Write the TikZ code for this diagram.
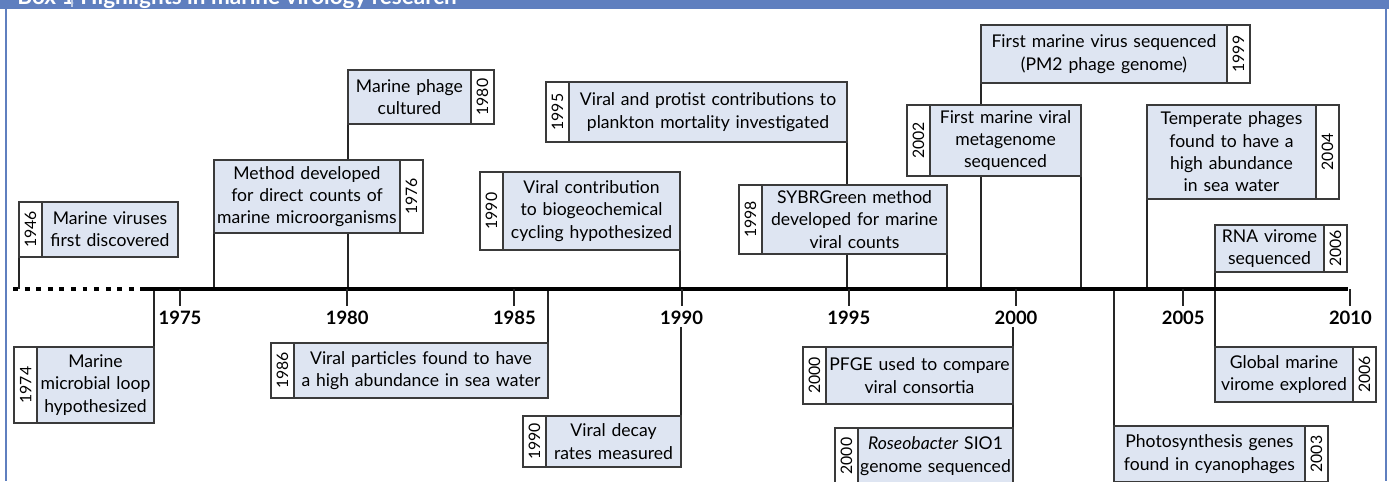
\documentclass[tikz,border=0pt]{standalone}
\usepackage{fontspec}
\setmainfont{Lato}
\usepackage{graphicx}
\usepackage{xcolor}
\definecolor{frame}{HTML}{5F7FBF}
\definecolor{boxfill}{HTML}{DEE5F2}
\definecolor{edge}{HTML}{3A3A3A}
\usepackage{tikz}
\usetikzlibrary{
    backgrounds,
    positioning,
}

\begin{document}
\begin{tikzpicture}[%
    x=0.02cm,
    y=-0.02cm,
    event/.style={
        draw=edge,
        line width=0.7pt,
        fill=boxfill,
        align=center,
        inner sep=0,
        outer sep=0,
        font=\fontsize{10}{12.7}\selectfont,
    },
    yearcell/.style={
        draw=edge,
        line width=0.7pt,
        fill=white,
        inner sep=0,
        outer sep=0,
        minimum width=0.46cm,
        font=\fontsize{9}{9}\selectfont,
    },
    stem/.style={
        draw,
        black!85,
        line width=1.1pt
    },
    axis/.style={
        line width=2.8pt,
        black
    },
    tick/.style={
        line width=1.1pt,
        black!85
    },
    yearlabel/.style={
        font=\fontsize{10.5}{10.5}\selectfont\bfseries,
        inner sep=1pt
    },
    title/.style={
        anchor=base west,
        inner sep=0,
        text=white,
        font=\fontsize{12.8}{12.8}\selectfont\bfseries
    }
]

\useasboundingbox (0,0) rectangle (1389,481);
\clip (0,0) rectangle (1389,481);

% frame
\fill[frame] (0,0) rectangle (1389,9);
\draw[frame, line width=1.1pt] (6,9) -- (6,481);
\draw[frame, line width=1.1pt] (1386,9) -- (1386,481);
\node[title] (boxno) at (17,4) {Box 1};
\node[title] (title) at (80,4) {Highlights in marine virology research};
\coordinate (sep) at (72,0);
\draw[white!60!frame, line width=0.6pt] (sep) -- ++(0,7);

% events above the line
\node[event, text width=2.72cm, minimum height=1.10cm, anchor=north west] (t1946) at (42,202) {Marine viruses\\first discovered};
\node[yearcell, minimum height=1.10cm, left=0pt of t1946] (y1946) {\rotatebox{90}{1946}};

\node[event, text width=3.72cm, minimum height=1.46cm, anchor=north west] (t1976) at (214,160) {Method developed\\for direct counts of\\marine microorganisms};
\node[yearcell, minimum height=1.46cm, right=0pt of t1976] (y1976) {\rotatebox{90}{1976}};

\node[event, text width=2.46cm, minimum height=1.08cm, anchor=north west] (t1980) at (348,70) {Marine phage\\cultured};
\node[yearcell, minimum height=1.08cm, right=0pt of t1980] (y1980) {\rotatebox{90}{1980}};

\node[event, text width=3.54cm, minimum height=1.56cm, anchor=north east] (t1990a) at (680,172) {Viral contribution\\to biogeochemical\\cycling hypothesized};
\node[yearcell, minimum height=1.56cm, left=0pt of t1990a] (y1990a) {\rotatebox{90}{1990}};

\node[event, text width=5.56cm, minimum height=1.20cm, anchor=north east] (t1995) at (847,82) {Viral and protist contributions to\\plankton mortality investigated};
\node[yearcell, minimum height=1.20cm, left=0pt of t1995] (y1995) {\rotatebox{90}{1995}};

\node[event, text width=3.70cm, minimum height=1.38cm, anchor=north east] (t1998) at (947,185) {SYBRGreen method\\developed for marine\\viral counts};
\node[yearcell, minimum height=1.38cm, left=0pt of t1998] (y1998) {\rotatebox{90}{1998}};

\node[event, text width=4.92cm, minimum height=1.16cm, anchor=north west] (t1999) at (981,25) {First marine virus sequenced\\(PM2 phage genome)};
\node[yearcell, minimum height=1.16cm, right=0pt of t1999] (y1999) {\rotatebox{90}{1999}};

\node[event, text width=3.02cm, minimum height=1.42cm, anchor=north east] (t2002) at (1081,105) {First marine viral\\metagenome\\sequenced};
\node[yearcell, minimum height=1.42cm, left=0pt of t2002] (y2002) {\rotatebox{90}{2002}};

\node[event, text width=3.38cm, minimum height=1.88cm, anchor=north west] (t2004) at (1147,105) {Temperate phages\\found to have a\\high abundance\\in sea water};
\node[yearcell, minimum height=1.88cm, right=0pt of t2004] (y2004) {\rotatebox{90}{2004}};

\node[event, text width=2.18cm, minimum height=0.94cm, anchor=north west] (t2006a) at (1215,225) {RNA virome\\sequenced};
\node[yearcell, minimum height=0.94cm, right=0pt of t2006a] (y2006a) {\rotatebox{90}{2006}};

% events below the line
\node[event, text width=2.34cm, minimum height=1.52cm, anchor=north east] (t1974) at (154,347) {Marine\\microbial loop\\hypothesized};
\node[yearcell, minimum height=1.52cm, left=0pt of t1974] (y1974) {\rotatebox{90}{1974}};

\node[event, text width=5.08cm, minimum height=1.10cm, anchor=north east] (t1986) at (548,343) {Viral particles found to have\\a high abundance in sea water};
\node[yearcell, minimum height=1.10cm, left=0pt of t1986] (y1986) {\rotatebox{90}{1986}};

\node[event, text width=2.70cm, minimum height=1.02cm, anchor=north east] (t1990b) at (681,416) {Viral decay\\rates measured};
\node[yearcell, minimum height=1.02cm, left=0pt of t1990b] (y1990b) {\rotatebox{90}{1990}};

\node[event, text width=3.74cm, minimum height=1.14cm, anchor=north east] (t2000a) at (1013,347) {PFGE used to compare\\viral consortia};
\node[yearcell, minimum height=1.14cm, left=0pt of t2000a] (y2000a) {\rotatebox{90}{2000}};

\node[event, text width=3.10cm, minimum height=1.12cm, anchor=north east] (t2000b) at (1013,428) {\textit{Roseobacter} SIO1\\genome sequenced};
\node[yearcell, minimum height=1.12cm, left=0pt of t2000b] (y2000b) {\rotatebox{90}{2000}};

\node[event, text width=3.82cm, minimum height=1.12cm, anchor=north west] (t2003) at (1114,426) {Photosynthesis genes\\found in cyanophages};
\node[yearcell, minimum height=1.12cm, right=0pt of t2003] (y2003) {\rotatebox{90}{2003}};

\node[event, text width=2.76cm, minimum height=1.10cm, anchor=north west] (t2006b) at (1215,347) {Global marine\\virome explored};
\node[yearcell, minimum height=1.10cm, right=0pt of t2006b] (y2006b) {\rotatebox{90}{2006}};

% time axis
\coordinate (axL) at (13,289);
\coordinate (axM) at (140,289);
\coordinate (axR) at (1348,289);
\draw[axis, dash pattern=on 2.8pt off 3.8pt] (axL) -- (axM);
\draw[axis] (axM) -- (axR);
\foreach \yr in {1975,1980,...,2010} {
    \coordinate (k\yr) at ({180+(\yr-1975)*33.44},289);
    \draw[tick] (k\yr) -- ++(0,17);
    \node[yearlabel] (l\yr) at ({180+(\yr-1975)*33.44},318) {\yr};
}

% stems
\begin{scope}[on background layer]
    \fill[white] (0,0) rectangle (1389,481);
    \draw[stem] (y1946.south west) -- (y1946.south west |- axL);
    \draw[stem] (t1976.south west) -- (t1976.south west |- axL);
    \draw[stem] (t1980.south west) -- (t1980.south west |- axL);
    \draw[stem] (t1990a.south east) -- (t1990a.south east |- axL);
    \draw[stem] (t1995.south east) -- (t1995.south east |- axL);
    \draw[stem] (t1998.south east) -- (t1998.south east |- axL);
    \draw[stem] (t1999.south west) -- (t1999.south west |- axL);
    \draw[stem] (t2002.south east) -- (t2002.south east |- axL);
    \draw[stem] (t2004.south west) -- (t2004.south west |- axL);
    \draw[stem] (t2006a.south west) -- (t2006b.north west);
    \draw[stem] (t1974.north east) -- (t1974.north east |- axL);
    \draw[stem] (t1986.north east) -- (t1986.north east |- axL);
    \draw[stem] (t1990b.north east |- l1990.south) -- (t1990b.north east);
    \draw[stem] (t2000a.north east |- l2000.south) -- (t2000b.south east);
    \draw[stem] (t2003.north west) -- (t2003.north west |- axL);
\end{scope}

\end{tikzpicture}
\end{document}
